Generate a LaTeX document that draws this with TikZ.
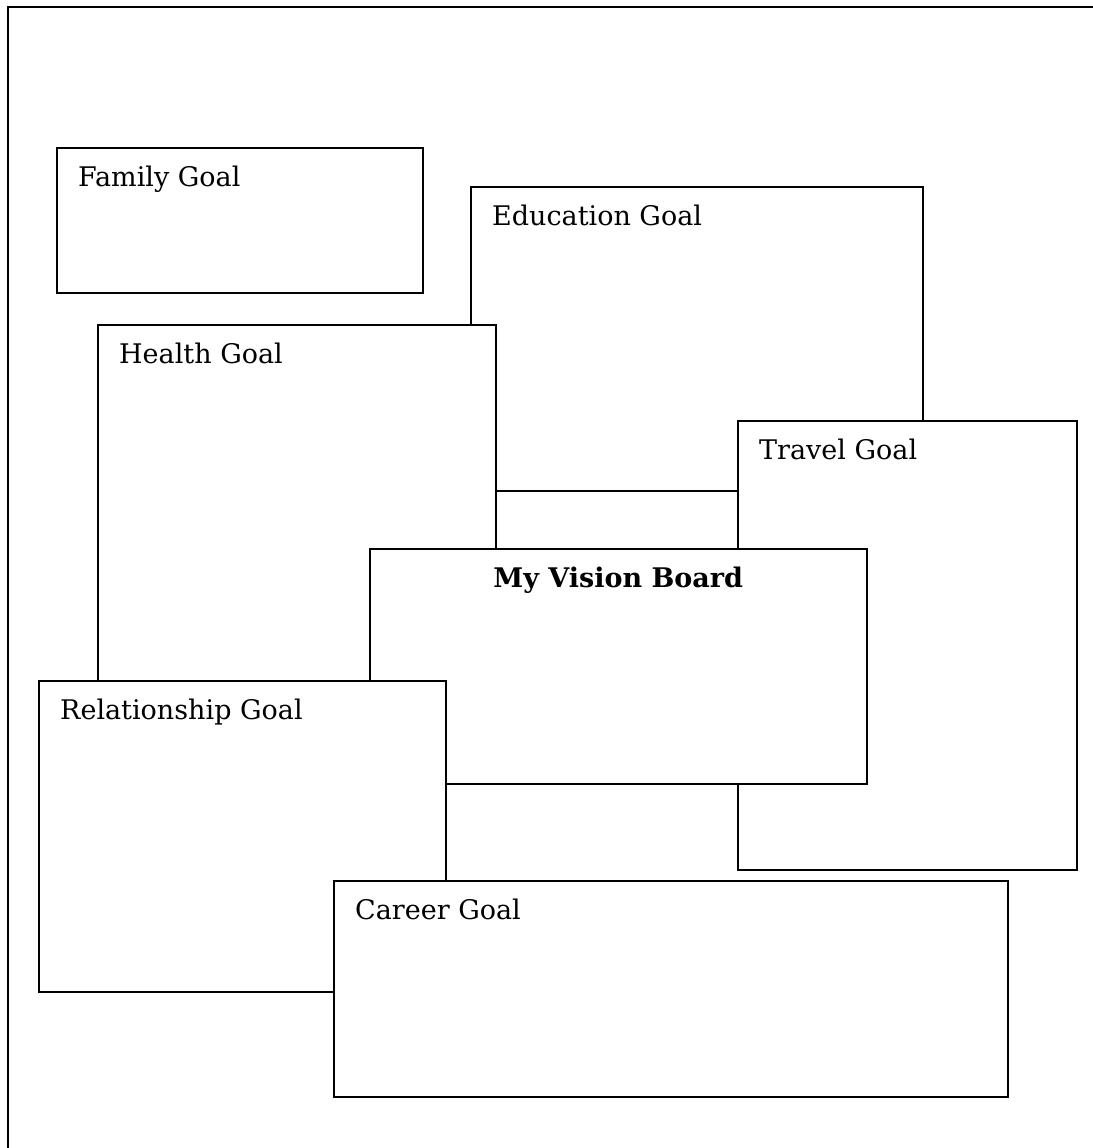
\documentclass[tikz,border=0pt]{standalone}
\usepackage{fontspec}
\setmainfont{DejaVu Serif}
\usetikzlibrary{positioning, calc}

\begin{document}
\begin{tikzpicture}[
    x=1pt, y=-1pt,
    goalbox/.style={rectangle, draw=black, fill=white, line width=1.5pt,
                    anchor=north west, inner sep=0pt},
    goaltext/.style={anchor=base west, font=\fontsize{27}{32}\selectfont, inner sep=0pt},
  ]
  \useasboundingbox (0,0) rectangle (1092,1148);
  \draw[line width=1.5pt] (8,7) rectangle (1110,1170);

  \node[goalbox, minimum width=366, minimum height=145] (family) at (56,147) {};
  \node[goaltext] (familytxt) at ($(family.north west)+(22,39)$) {Family Goal};

  \node[goalbox, minimum width=452, minimum height=304] (edu) at (470,186) {};
  \node[goaltext] (edutxt) at ($(edu.north west)+(22,39)$) {Education Goal};

  \node[goalbox, minimum width=398, minimum height=396] (health) at (97,324) {};
  \node[goaltext] (healthtxt) at ($(health.north west)+(22,39)$) {Health Goal};

  \node[goalbox, minimum width=339, minimum height=449] (travel) at (737,420) {};
  \node[goaltext] (traveltxt) at ($(travel.north west)+(22,39)$) {Travel Goal};

  \node[goalbox, minimum width=497, minimum height=235] (vision) at (369,548) {};
  \node[goaltext, anchor=base, font=\fontsize{27}{32}\selectfont\bfseries]
    (visiontxt) at ($(vision.north)+(0,39)$) {My Vision Board};

  \node[goalbox, minimum width=407, minimum height=311] (rel) at (38,680) {};
  \node[goaltext] (reltxt) at ($(rel.north west)+(22,39)$) {Relationship Goal};

  \node[goalbox, minimum width=674, minimum height=216] (career) at (333,880) {};
  \node[goaltext] (careertxt) at ($(career.north west)+(22,39)$) {Career Goal};
\end{tikzpicture}
\end{document}
